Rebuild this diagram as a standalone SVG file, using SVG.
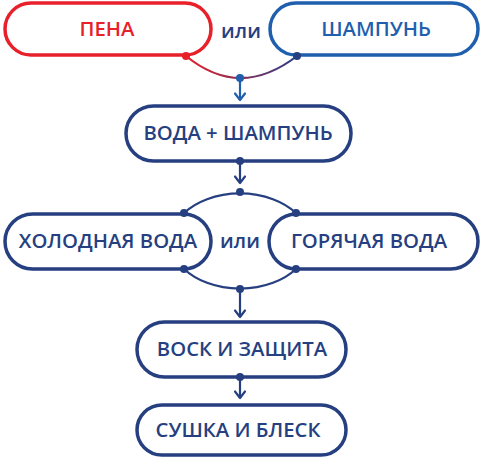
<svg xmlns="http://www.w3.org/2000/svg" width="481" height="461" viewBox="0 0 481 461">
<style>
.box{fill:#fff;stroke-width:3.5}
.navy{stroke:#263f80}
.t{font-family:"Open Sans","DejaVu Sans",sans-serif;font-weight:600;font-size:20.3px;text-anchor:middle}
.c{fill:none;stroke:#263f80;stroke-width:2.2}
.dot{fill:#263f80}
</style>
<defs>
<linearGradient id="g" x1="186" y1="0" x2="297" y2="0" gradientUnits="userSpaceOnUse">
<stop offset="0" stop-color="#e8202a"/>
<stop offset="1" stop-color="#2a3f86"/>
</linearGradient>
<marker id="ahb" viewBox="0 0 10 12" refX="8.5" refY="6" markerWidth="10" markerHeight="12" markerUnits="userSpaceOnUse" orient="auto">
<path d="M2,1 L8.5,6 L2,11" fill="none" stroke="#1f5fae" stroke-width="2.2" stroke-linecap="round" stroke-linejoin="round"/>
</marker>
<marker id="ahn" viewBox="0 0 10 12" refX="8.5" refY="6" markerWidth="10" markerHeight="12" markerUnits="userSpaceOnUse" orient="auto">
<path d="M2,1 L8.5,6 L2,11" fill="none" stroke="#263f80" stroke-width="2.2" stroke-linecap="round" stroke-linejoin="round"/>
</marker>
</defs>
<g id="connectors">
<path d="M186,56 Q240,100 297,56" fill="none" stroke="url(#g)" stroke-width="2.2"/>
<line x1="240" y1="78" x2="240" y2="100" stroke="#1f5fae" stroke-width="2.2" marker-end="url(#ahb)"/>
<line x1="240" y1="161" x2="240" y2="183" class="c" marker-end="url(#ahn)"/>
<path d="M184,213 A70 49 0 0 1 296,213" class="c"/>
<path d="M184,269 A70 49 0 0 0 296,269" class="c"/>
<line x1="240" y1="289" x2="240" y2="317" class="c" marker-end="url(#ahn)"/>
<line x1="240" y1="377" x2="240" y2="398" class="c" marker-end="url(#ahn)"/>
</g>
<g id="pena">
<rect x="5" y="3" width="206" height="52" rx="26" class="box" stroke="#e8202a"/>
<text x="107" y="36" class="t" fill="#e8202a">ПЕНА</text>
</g>
<g id="ili1"><text x="241" y="38" class="t" fill="#263f80">или</text></g>
<g id="shampoo">
<rect x="270" y="3" width="208" height="52" rx="26" class="box" stroke="#1f5fae"/>
<text x="376" y="36" class="t" fill="#1f5fae">ШАМПУНЬ</text>
</g>
<g id="voda-shampoo">
<rect x="126" y="106" width="225" height="55" rx="27.5" class="box navy"/>
<text x="238" y="140" class="t" fill="#263f80">ВОДА + ШАМПУНЬ</text>
</g>
<g id="cold">
<rect x="5" y="214" width="206" height="55" rx="27.5" class="box navy"/>
<text x="108" y="248" class="t" fill="#263f80">ХОЛОДНАЯ ВОДА</text>
</g>
<g id="ili2"><text x="240" y="248" class="t" fill="#263f80">или</text></g>
<g id="hot">
<rect x="269" y="214" width="209" height="55" rx="27.5" class="box navy"/>
<text x="369" y="248" class="t" fill="#263f80">ГОРЯЧАЯ ВОДА</text>
</g>
<g id="wax">
<rect x="137" y="322" width="209" height="55" rx="27.5" class="box navy"/>
<text x="242" y="356" class="t" fill="#263f80">ВОСК И ЗАЩИТА</text>
</g>
<g id="dry">
<rect x="137" y="405" width="209" height="50" rx="25" class="box navy"/>
<text x="238" y="437" class="t" fill="#263f80">СУШКА И БЛЕСК</text>
</g>
<g id="dots">
<circle cx="186" cy="56" r="4" fill="#e8202a"/>
<circle cx="297" cy="56" r="4" class="dot"/>
<circle cx="240" cy="78" r="4" fill="#1f5fae"/>
<circle cx="240" cy="161" r="4" class="dot"/>
<circle cx="240" cy="192" r="4" class="dot"/>
<circle cx="184" cy="213" r="4" class="dot"/>
<circle cx="296" cy="213" r="4" class="dot"/>
<circle cx="184" cy="269" r="4" class="dot"/>
<circle cx="296" cy="269" r="4" class="dot"/>
<circle cx="240" cy="289" r="4" class="dot"/>
<circle cx="240" cy="377" r="4" class="dot"/>
</g>
</svg>
